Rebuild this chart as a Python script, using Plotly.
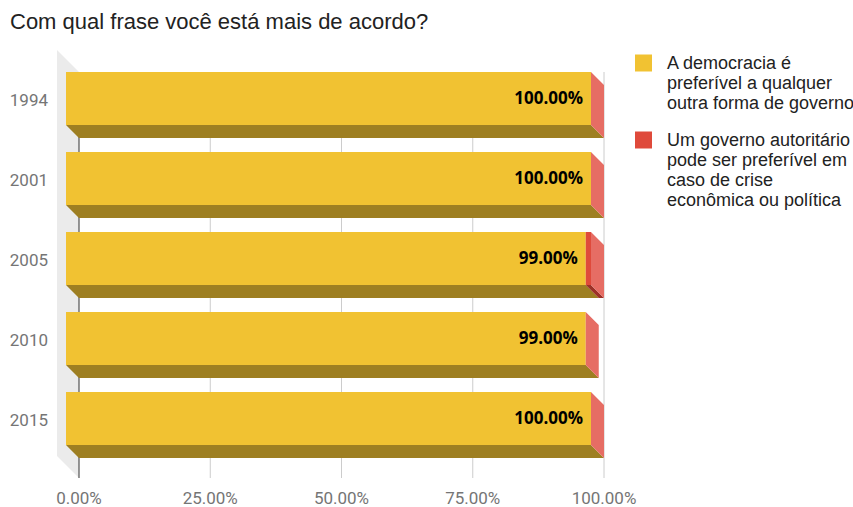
import plotly.graph_objects as go

# Survey answers per year (share of respondents)
years = ["1994", "2001", "2005", "2010", "2015"]
democracia = [1.00, 1.00, 0.99, 0.99, 1.00]
autoritario = [0.00, 0.00, 0.01, 0.00, 0.00]
x_ticks = [0.0, 0.25, 0.50, 0.75, 1.0]

serie_names = [
    "A democracia é<br>preferível a qualquer<br>outra forma de governo",
    "Um governo autoritário<br>pode ser preferível em<br>caso de crise<br>econômica ou política",
]

# colours: front face, bottom face, side face
YELLOW, YELLOW_DARK = "#f1c232", "#9e7f22"
RED, RED_DARK, RED_SIDE = "#df4a3b", "#9c3127", "#e66d64"

# canvas / plot geometry (pixels)
W, H = 853, 507
PL, PR, PT, PB = 52, 620, 45, 478
X0PX, XSCALE = 79, 525       # pixel of 0 on the back plane, pixels per unit
Y0PX, YSTEP = 98.5, 80       # pixel of first category centre, spacing
DEPTH = 13                   # 3D extrusion
BAR_PX = 53                  # height of a bar front face
WALL = 22                    # depth of the left wall
BACK_TOP = 72                # top of the back plane

# legend block (pixels)
LEG_SWATCH_X, LEG_TEXT_X = 635, 665
LEG_TOP, LEG_LINE, LEG_GAP, LEG_SWATCH = 63, 20, 17, 17

dx = DEPTH / XSCALE
dy = DEPTH / YSTEP
h = BAR_PX / YSTEP


def xr(px):
    return (px - X0PX) / XSCALE


def yr(px):
    return (px - Y0PX) / YSTEP


def xp(px):
    return (px - PL) / (PR - PL)


def yp(py):
    return (PB - py) / (PB - PT)


def bottom_faces(starts, widths):
    xs, ys = [], []
    for i, (a, w) in enumerate(zip(starts, widths)):
        b = a + w
        yb = i + h / 2
        xs += [a - dx, b - dx, b, a, a - dx, None]
        ys += [yb, yb, yb + dy, yb + dy, yb, None]
    return xs, ys


def side_faces(totals):
    xs, ys = [], []
    for i, t in enumerate(totals):
        yt, yb = i - h / 2, i + h / 2
        xs += [t - dx, t, t, t - dx, t - dx, None]
        ys += [yt, yt + dy, yb + dy, yb, yt, None]
    return xs, ys


idx = list(range(len(years)))
totals = [a + b for a, b in zip(democracia, autoritario)]

fig = go.Figure()

# bottom faces
bx, by = bottom_faces([0.0] * len(years), democracia)
fig.add_trace(go.Scatter(x=bx, y=by, mode="lines", fill="toself", fillcolor=YELLOW_DARK,
                         line=dict(width=0, color=YELLOW_DARK), showlegend=False, hoverinfo="skip"))
bx, by = bottom_faces(democracia, autoritario)
fig.add_trace(go.Scatter(x=bx, y=by, mode="lines", fill="toself", fillcolor=RED_DARK,
                         line=dict(width=0, color=RED_DARK), showlegend=False, hoverinfo="skip"))
# right side faces
sx, sy = side_faces(totals)
fig.add_trace(go.Scatter(x=sx, y=sy, mode="lines", fill="toself", fillcolor=RED_SIDE,
                         line=dict(width=0, color=RED_SIDE), showlegend=False, hoverinfo="skip"))

# front faces
fig.add_trace(go.Bar(orientation="h", y=idx, x=democracia, base=[-dx] * len(years), width=h,
                     marker=dict(color=YELLOW, line=dict(width=0)),
                     name=serie_names[0].replace("<br>", " "), showlegend=False, hoverinfo="skip"))
fig.add_trace(go.Bar(orientation="h", y=idx, x=autoritario, base=[d - dx for d in democracia],
                     width=h, marker=dict(color=RED, line=dict(width=0)),
                     name=serie_names[1].replace("<br>", " "), showlegend=False, hoverinfo="skip"))

# value labels at the end of the democracy segment
fig.add_trace(go.Scatter(
    x=[d - dx - 8 / XSCALE for d in democracia], y=[i + 0.02 for i in idx], mode="text",
    text=[f"{d * 100:.2f}%" for d in democracia], textposition="middle left",
    textfont=dict(family="Open Sans", size=17, color="#000000", weight="bold"),
    showlegend=False, hoverinfo="skip"))

shapes = [
    # left wall
    dict(type="path", layer="below", line=dict(width=0), fillcolor="#ebebeb",
         path=(f"M {xr(X0PX - WALL)} {yr(BACK_TOP - WALL)} L 0 {yr(BACK_TOP)} "
               f"L 0 {yr(PB)} L {xr(X0PX - WALL)} {yr(PB - WALL)} Z")),
]
for t in x_ticks[1:]:
    shapes.append(dict(type="line", layer="below", x0=t, x1=t, y0=yr(BACK_TOP), y1=yr(PB),
                       line=dict(color="#cccccc", width=1)))
shapes.append(dict(type="line", layer="below", x0=0, x1=0, y0=yr(BACK_TOP), y1=yr(PB),
                   line=dict(color="#333333", width=1)))

# legend: colour swatch + wrapped label lines
annotations = []
y_line = LEG_TOP
for name, color in zip(serie_names, [YELLOW, RED]):
    lines = name.split("<br>")
    shapes.append(dict(type="rect", xref="paper", yref="paper", layer="above",
                       x0=xp(LEG_SWATCH_X), x1=xp(LEG_SWATCH_X + LEG_SWATCH),
                       y0=yp(y_line - LEG_SWATCH / 2), y1=yp(y_line + LEG_SWATCH / 2),
                       fillcolor=color, line=dict(width=0)))
    for ln in lines:
        annotations.append(dict(text=ln, xref="paper", yref="paper", x=xp(LEG_TEXT_X),
                                y=yp(y_line), xanchor="left", yanchor="middle", showarrow=False,
                                font=dict(family="Liberation Sans", size=18, color="#222222")))
        y_line += LEG_LINE
    y_line += LEG_GAP

tick_font = dict(family="Roboto", size=17, color="#757575")

fig.update_layout(
    width=W, height=H,
    margin=dict(l=PL, r=W - PR, t=PT, b=H - PB, pad=0, autoexpand=False),
    paper_bgcolor="white", plot_bgcolor="white",
    barmode="overlay",
    title=dict(text="Com qual frase você está mais de acordo?", x=10 / W, xref="container",
               xanchor="left", y=1 - 21 / H, yref="container", yanchor="middle",
               font=dict(family="Liberation Sans", size=22, color="#222222")),
    xaxis=dict(range=[xr(PL), xr(PR)], tickvals=x_ticks, tickformat=".2%", showgrid=False,
               zeroline=False, showline=False, ticks="", tickfont=tick_font, fixedrange=True,
               automargin=False, ticklabelstandoff=8),
    yaxis=dict(range=[yr(PB), yr(PT)], tickvals=[i + 0.02 for i in idx], ticktext=years,
               showgrid=False, zeroline=False, showline=False, ticks="", tickfont=tick_font,
               fixedrange=True, automargin=False, ticklabelstandoff=3),
    shapes=shapes,
    annotations=annotations,
    showlegend=False,
)

fig.write_html("out.html")
